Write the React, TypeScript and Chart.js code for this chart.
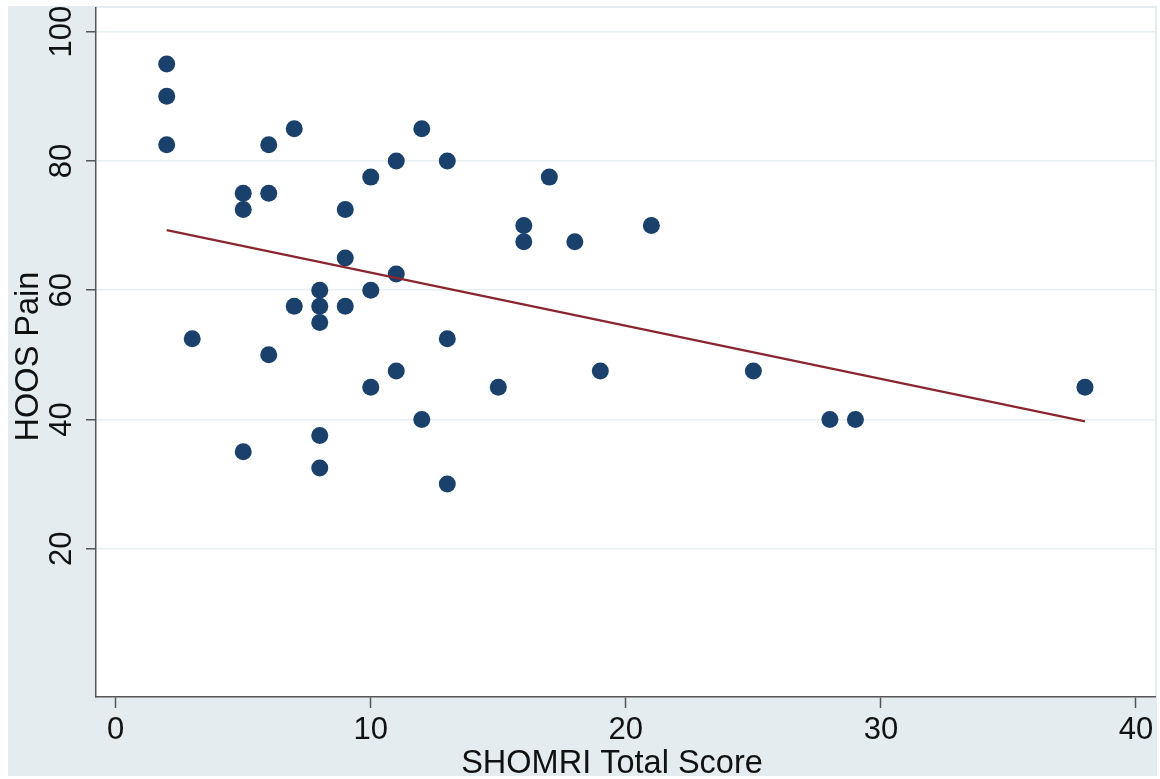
import React, { useEffect, useRef } from "react";
import { Chart, registerables } from "chart.js";

Chart.register(...registerables);

// SHOMRI total score (x) and HOOS pain (y) for each subject
const shomriScore = [2, 2, 2, 3, 5, 5, 5, 6, 6, 6, 7, 7, 8, 8, 8, 8, 8, 9, 9, 9, 10, 10, 10, 11, 11, 11, 12, 12, 13, 13, 13, 15, 16, 16, 17, 18, 19, 21, 25, 28, 29, 38];
const hoosPain = [95, 90, 82.5, 52.5, 75, 72.5, 35, 82.5, 75, 50, 85, 57.5, 60, 57.5, 55, 37.5, 32.5, 72.5, 65, 57.5, 77.5, 60, 45, 80, 62.5, 47.5, 85, 40, 80, 52.5, 30, 45, 70, 67.5, 77.5, 67.5, 47.5, 70, 47.5, 40, 40, 45];

// Fitted regression line end points
const fitX = [2, 38];
const fitY = [69.3, 39.7];

const xTicks = [0, 10, 20, 30, 40];
const yTicks = [20, 40, 60, 80, 100];

const xTitle = "SHOMRI Total Score";
const yTitle = "HOOS Pain";

const FAMILY = '"Liberation Sans", Arial, Helvetica, sans-serif';
const TICK_FONT = `31px ${FAMILY}`;
const TITLE_FONT = `32.5px ${FAMILY}`;

export default function App() {
  const ref = useRef<HTMLCanvasElement | null>(null);

  useEffect(() => {
    const canvas = ref.current;
    if (!canvas) return;

    const bgPlugin = {
      id: "stataBg",
      beforeDraw(chart: any) {
        const { ctx, chartArea } = chart;
        ctx.save();
        ctx.fillStyle = "#ffffff";
        ctx.fillRect(0, 0, chart.width, chart.height);
        ctx.fillStyle = "#e4ecef";
        ctx.fillRect(8, 6, 1149, 770);
        ctx.fillStyle = "#ffffff";
        ctx.fillRect(chartArea.left, chartArea.top, chartArea.right - chartArea.left, chartArea.bottom - chartArea.top);
        ctx.restore();
      },
      afterDraw(chart: any) {
        const { ctx, chartArea } = chart;
        const xs = chart.scales.x;
        const ys = chart.scales.y;
        ctx.save();
        ctx.fillStyle = "#111111";
        ctx.font = TICK_FONT;
        ctx.textBaseline = "alphabetic";
        ctx.textAlign = "center";
        xTicks.forEach((v) => {
          ctx.fillText(String(v), xs.getPixelForValue(v), 739);
        });
        yTicks.forEach((v) => {
          ctx.save();
          ctx.translate(71, ys.getPixelForValue(v));
          ctx.rotate(-Math.PI / 2);
          ctx.fillText(String(v), 0, 0);
          ctx.restore();
        });
        ctx.font = TITLE_FONT;
        ctx.fillText(xTitle, 612, 773);
        ctx.save();
        ctx.translate(38, (chartArea.top + chartArea.bottom) / 2 + 4);
        ctx.rotate(-Math.PI / 2);
        ctx.fillText(yTitle, 0, 0);
        ctx.restore();
        ctx.restore();
      },
    };

    const chart = new Chart(canvas, {
      type: "scatter",
      data: {
        datasets: [
          {
            type: "scatter",
            label: yTitle,
            data: shomriScore.map((x, i) => ({ x, y: hoosPain[i] })),
            backgroundColor: "#1a416c",
            borderColor: "#1a416c",
            borderWidth: 0,
            pointRadius: 8.5,
            pointHoverRadius: 8.5,
            order: 2,
          },
          {
            type: "line",
            label: "Fitted values",
            data: fitX.map((x, i) => ({ x, y: fitY[i] })),
            borderColor: "#8a2630",
            borderWidth: 2.2,
            pointRadius: 0,
            fill: false,
            order: 1,
          } as any,
        ],
      },
      options: {
        responsive: false,
        animation: false,
        devicePixelRatio: 1,
        layout: { autoPadding: false, padding: { top: 8, right: 5, left: 0, bottom: 0 } },
        plugins: {
          legend: { display: false },
          tooltip: { enabled: false },
          title: { display: false },
        },
        scales: {
          x: {
            type: "linear",
            min: -0.772,
            max: 40.745,
            afterBuildTicks: (s: any) => {
              s.ticks = xTicks.map((v) => ({ value: v }));
            },
            afterFit: (s: any) => {
              s.height = 82;
            },
            ticks: { display: false },
            grid: {
              display: true,
              drawOnChartArea: false,
              drawTicks: true,
              tickLength: 11,
              tickColor: "#555555",
              tickWidth: 1.5,
            },
            border: { display: true, color: "#555555", width: 1.5 },
          },
          y: {
            type: "linear",
            min: -2.95,
            max: 103.67,
            afterBuildTicks: (s: any) => {
              s.ticks = yTicks.map((v) => ({ value: v }));
            },
            afterFit: (s: any) => {
              s.width = 96;
            },
            ticks: { display: false },
            grid: {
              display: true,
              drawOnChartArea: true,
              drawTicks: true,
              tickLength: 10,
              color: "#e6eff1",
              lineWidth: 1.5,
              tickColor: "#555555",
              tickWidth: 1.5,
            },
            border: { display: true, color: "#555555", width: 1.5 },
          },
        },
      },
      plugins: [bgPlugin],
    });

    return () => {
      chart.destroy();
    };
  }, []);

  return (
    <div style={{ position: "absolute", left: 0, top: 0, width: 1160, height: 779, background: "#ffffff" }}>
      <canvas ref={ref} width={1160} height={779} style={{ width: 1160, height: 779, display: "block" }} />
    </div>
  );
}
